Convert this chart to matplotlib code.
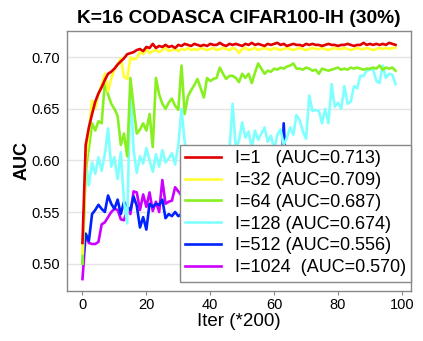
import numpy as np
import matplotlib
matplotlib.use("Agg")
import matplotlib.pyplot as plt

# AUC per evaluation step (one point every 200 iterations)
auc_i1 = [0.520, 0.615, 0.632, 0.645, 0.657, 0.665, 0.671, 0.678, 0.684, 0.686,
          0.689, 0.693, 0.696, 0.699, 0.703, 0.704, 0.705, 0.707, 0.708, 0.706,
          0.710, 0.709, 0.713, 0.709, 0.711, 0.710, 0.712, 0.710, 0.711, 0.709,
          0.712, 0.711, 0.713, 0.712, 0.711, 0.713, 0.712, 0.711, 0.712, 0.711,
          0.713, 0.712, 0.712, 0.714, 0.712, 0.711, 0.713, 0.712, 0.713, 0.712,
          0.711, 0.713, 0.712, 0.714, 0.712, 0.713, 0.712, 0.711, 0.713, 0.712,
          0.713, 0.714, 0.712, 0.713, 0.711, 0.712, 0.713, 0.712, 0.712, 0.711,
          0.713, 0.712, 0.713, 0.712, 0.712, 0.711, 0.712, 0.713, 0.712, 0.712,
          0.711, 0.712, 0.712, 0.713, 0.712, 0.711, 0.712, 0.712, 0.714, 0.712,
          0.713, 0.712, 0.713, 0.712, 0.713, 0.712, 0.714, 0.713, 0.712]
auc_i32 = [0.510, 0.600, 0.628, 0.658, 0.650, 0.664, 0.673, 0.684, 0.667, 0.679,
           0.688, 0.693, 0.699, 0.681, 0.679, 0.700, 0.698, 0.699, 0.705, 0.703,
           0.708, 0.704, 0.706, 0.707, 0.705, 0.707, 0.709, 0.706, 0.707, 0.708,
           0.706, 0.708, 0.707, 0.709, 0.707, 0.708, 0.707, 0.709, 0.708, 0.707,
           0.708, 0.709, 0.707, 0.708, 0.709, 0.708, 0.707, 0.709, 0.708, 0.704,
           0.708, 0.709, 0.707, 0.708, 0.709, 0.707, 0.708, 0.709, 0.708, 0.707,
           0.709, 0.708, 0.707, 0.708, 0.709, 0.708, 0.707, 0.708, 0.709, 0.708,
           0.707, 0.708, 0.709, 0.708, 0.708, 0.709, 0.708, 0.707, 0.708, 0.709,
           0.708, 0.708, 0.709, 0.708, 0.707, 0.708, 0.709, 0.708, 0.708, 0.709,
           0.708, 0.707, 0.708, 0.709, 0.708, 0.709, 0.708, 0.709, 0.709]
auc_i64 = [0.500, 0.590, 0.612, 0.636, 0.629, 0.638, 0.636, 0.676, 0.664, 0.655,
           0.650, 0.643, 0.615, 0.626, 0.604, 0.680, 0.652, 0.626, 0.630, 0.636,
           0.629, 0.645, 0.613, 0.680, 0.664, 0.655, 0.650, 0.656, 0.660, 0.653,
           0.649, 0.692, 0.645, 0.662, 0.668, 0.673, 0.679, 0.670, 0.661, 0.680,
           0.677, 0.679, 0.680, 0.690, 0.684, 0.679, 0.682, 0.682, 0.680, 0.676,
           0.684, 0.680, 0.684, 0.675, 0.685, 0.694, 0.689, 0.684, 0.687, 0.686,
           0.689, 0.688, 0.690, 0.689, 0.691, 0.692, 0.694, 0.689, 0.689, 0.688,
           0.690, 0.689, 0.687, 0.688, 0.684, 0.689, 0.688, 0.687, 0.688, 0.689,
           0.690, 0.688, 0.689, 0.688, 0.690, 0.689, 0.690, 0.689, 0.688, 0.689,
           0.689, 0.690, 0.689, 0.692, 0.688, 0.690, 0.689, 0.690, 0.687]
auc_i128 = [0.500, 0.600, 0.576, 0.598, 0.587, 0.603, 0.590, 0.606, 0.631, 0.594,
            0.603, 0.582, 0.608, 0.560, 0.539, 0.672, 0.610, 0.588, 0.604, 0.597,
            0.612, 0.600, 0.589, 0.606, 0.594, 0.610, 0.598, 0.602, 0.607, 0.596,
            0.615, 0.650, 0.618, 0.600, 0.595, 0.603, 0.598, 0.592, 0.605, 0.600,
            0.596, 0.604, 0.598, 0.607, 0.612, 0.603, 0.610, 0.655, 0.612, 0.619,
            0.637, 0.622, 0.628, 0.612, 0.629, 0.620, 0.626, 0.632, 0.618, 0.624,
            0.610, 0.625, 0.630, 0.615, 0.622, 0.632, 0.625, 0.644, 0.639, 0.628,
            0.621, 0.663, 0.648, 0.649, 0.648, 0.636, 0.650, 0.636, 0.674, 0.652,
            0.656, 0.650, 0.672, 0.655, 0.657, 0.672, 0.670, 0.682, 0.682, 0.687,
            0.688, 0.688, 0.677, 0.675, 0.692, 0.680, 0.684, 0.683, 0.674]
auc_i512 = [0.500, 0.529, 0.522, 0.548, 0.552, 0.557, 0.553, 0.550, 0.566, 0.558,
            0.553, 0.562, 0.548, 0.560, 0.555, 0.552, 0.565, 0.556, 0.535, 0.545,
            0.533, 0.558, 0.555, 0.558, 0.557, 0.562, 0.544, 0.548, 0.546, 0.550,
            0.546, 0.548, 0.551, 0.547, 0.552, 0.549, 0.553, 0.550, 0.548, 0.552,
            0.554, 0.550, 0.553, 0.551, 0.555, 0.552, 0.556, 0.553, 0.557, 0.554,
            0.558, 0.556, 0.559, 0.557, 0.560, 0.558, 0.561, 0.559, 0.562, 0.560,
            0.563, 0.561, 0.565, 0.636, 0.568, 0.560, 0.562, 0.558, 0.561, 0.559,
            0.563, 0.560, 0.558, 0.562, 0.559, 0.561, 0.557, 0.560, 0.558, 0.561,
            0.559, 0.562, 0.560, 0.557, 0.559, 0.561, 0.558, 0.560, 0.556, 0.559,
            0.557, 0.560, 0.558, 0.556, 0.559, 0.557, 0.555, 0.558, 0.556]
auc_i1024 = [0.485, 0.528, 0.520, 0.519, 0.519, 0.521, 0.538, 0.540, 0.545, 0.550,
             0.553, 0.552, 0.543, 0.542, 0.553, 0.548, 0.570, 0.569, 0.552, 0.567,
             0.555, 0.569, 0.551, 0.560, 0.550, 0.581, 0.558, 0.560, 0.561, 0.574,
             0.570, 0.566, 0.572, 0.568, 0.574, 0.569, 0.573, 0.567, 0.571, 0.575,
             0.570, 0.568, 0.573, 0.569, 0.574, 0.571, 0.567, 0.572, 0.570, 0.575,
             0.569, 0.573, 0.568, 0.572, 0.570, 0.574, 0.569, 0.571, 0.573, 0.568,
             0.572, 0.570, 0.574, 0.569, 0.571, 0.573, 0.570, 0.568, 0.572, 0.571,
             0.574, 0.569, 0.572, 0.570, 0.573, 0.568, 0.571, 0.574, 0.570, 0.572,
             0.569, 0.573, 0.571, 0.570, 0.574, 0.569, 0.572, 0.570, 0.573, 0.571,
             0.568, 0.572, 0.570, 0.573, 0.569, 0.571, 0.572, 0.570, 0.570]

labels = ["I=1   (AUC=0.713)", "I=32 (AUC=0.709)", "I=64 (AUC=0.687)",
          "I=128 (AUC=0.674)", "I=512 (AUC=0.556)", "I=1024  (AUC=0.570)"]
colors = ["#e00000", "#ffff33", "#88f020", "#80ffff", "#0022ff", "#cc00ff"]
series = [auc_i1, auc_i32, auc_i64, auc_i128, auc_i512, auc_i1024]

font = "Liberation Sans"

fig = plt.figure(figsize=(4.23, 3.41), dpi=100)
ax = fig.add_axes([0.158, 0.147, 0.814, 0.762])

for i, (y, c, lab) in enumerate(zip(series, colors, labels)):
    ax.plot(np.arange(len(y)), y, color=c, lw=1.9, label=lab, zorder=10 - i)

ax.set_yticks([0.50, 0.55, 0.60, 0.65, 0.70])
ax.set_xticks([0, 20, 40, 60, 80, 100])
ax.grid(axis="y", color="#e4e4e4", lw=1.0)
ax.set_axisbelow(True)
for s in ax.spines.values():
    s.set_color("#888888")
    s.set_linewidth(1.0)
ax.tick_params(axis="x", length=3, color="#888888", labelsize=10.5, pad=2)
ax.tick_params(axis="y", length=0, labelsize=10.5, pad=5)
for t in ax.get_xticklabels() + ax.get_yticklabels():
    t.set_family(font)

ax.set_title("K=16 CODASCA CIFAR100-IH (30%)", fontsize=13.8,
             fontweight="bold", family=font, pad=6)
ax.set_xlabel("Iter (*200)", fontsize=13.5, family=font, labelpad=1)
ax.set_ylabel("AUC", fontsize=13, fontweight="bold", family=font)
ax.yaxis.set_label_coords(-0.105, 0.5)

leg = ax.legend(loc="lower right", bbox_to_anchor=(1.0, 0.035),
                borderaxespad=0, fancybox=False, framealpha=1,
                edgecolor="#888888", labelspacing=0.27, borderpad=0.3,
                handlelength=2.0, handletextpad=0.75,
                prop={"family": font, "size": 13})
leg.get_frame().set_linewidth(1.0)
leg.set_zorder(20)

fig.savefig("out.png", dpi=100)
